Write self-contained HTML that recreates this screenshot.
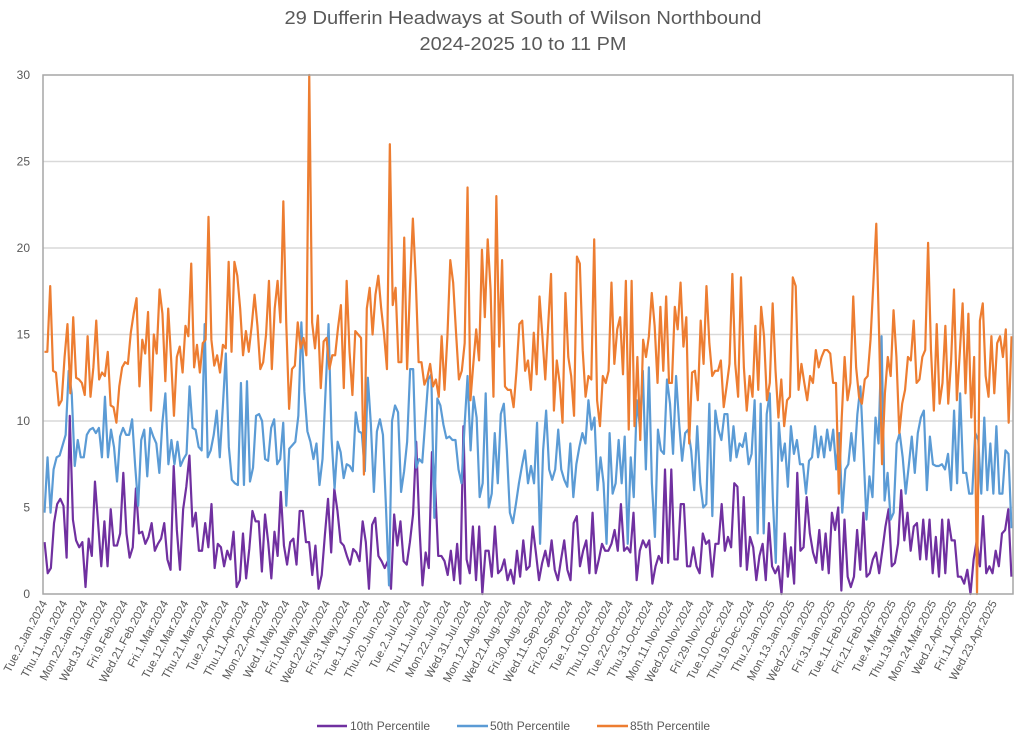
<!DOCTYPE html>
<html>
<head>
<meta charset="utf-8">
<style>
  html,body{margin:0;padding:0;background:#fff;}
  svg{display:block;font-family:"Liberation Sans",sans-serif;}
</style>
</head>
<body>
<svg id="chart" width="1024" height="738" viewBox="0 0 1024 738" xmlns="http://www.w3.org/2000/svg">
  <rect x="0" y="0" width="1024" height="738" fill="#fff"/>
  <text x="523" y="24" text-anchor="middle" font-size="18" fill="#595959" textLength="477" lengthAdjust="spacingAndGlyphs">29 Dufferin Headways at South of Wilson Northbound</text>
  <text x="523" y="50" text-anchor="middle" font-size="18" fill="#595959" textLength="207" lengthAdjust="spacingAndGlyphs">2024-2025 10 to 11 PM</text>
  <g id="grid"></g>
  <g id="yticks"></g>
  <g id="xticks"></g>
  <g id="series"></g>
  <rect x="43" y="75" width="970" height="519" fill="none" stroke="#a6a6a6" stroke-width="1.5"/>
  <g>
    <g>
      <line x1="317" y1="726" x2="347" y2="726" stroke="#7030a0" stroke-width="2.5"/>
      <text x="350" y="730" font-size="12" fill="#595959">10th Percentile</text>
    </g>
    <g>
      <line x1="457" y1="726" x2="488" y2="726" stroke="#5b9bd5" stroke-width="2.5"/>
      <text x="490" y="730" font-size="12" fill="#595959">50th Percentile</text>
    </g>
    <g>
      <line x1="597" y1="726" x2="628" y2="726" stroke="#ed7d31" stroke-width="2.5"/>
      <text x="630" y="730" font-size="12" fill="#595959">85th Percentile</text>
    </g>
  </g>
</svg>
<script>
const yTicks = [0,5,10,15,20,25,30];
const xTickLabels = ["Tue.2.Jan.2024","Thu.11.Jan.2024","Mon.22.Jan.2024","Wed.31.Jan.2024","Fri.9.Feb.2024","Wed.21.Feb.2024","Fri.1.Mar.2024","Tue.12.Mar.2024","Thu.21.Mar.2024","Tue.2.Apr.2024","Thu.11.Apr.2024","Mon.22.Apr.2024","Wed.1.May.2024","Fri.10.May.2024","Wed.22.May.2024","Fri.31.May.2024","Tue.11.Jun.2024","Thu.20.Jun.2024","Tue.2.Jul.2024","Thu.11.Jul.2024","Mon.22.Jul.2024","Wed.31.Jul.2024","Mon.12.Aug.2024","Wed.21.Aug.2024","Fri.30.Aug.2024","Wed.11.Sep.2024","Fri.20.Sep.2024","Tue.1.Oct.2024","Thu.10.Oct.2024","Tue.22.Oct.2024","Thu.31.Oct.2024","Mon.11.Nov.2024","Wed.20.Nov.2024","Fri.29.Nov.2024","Tue.10.Dec.2024","Thu.19.Dec.2024","Thu.2.Jan.2025","Mon.13.Jan.2025","Wed.22.Jan.2025","Fri.31.Jan.2025","Tue.11.Feb.2025","Fri.21.Feb.2025","Tue.4.Mar.2025","Thu.13.Mar.2025","Mon.24.Mar.2025","Wed.2.Apr.2025","Fri.11.Apr.2025","Wed.23.Apr.2025"];
const labelEvery = 7;
const categoryCount = 336;

const p85 = [14,14,17.8,12.9,12.8,10.9,11.2,13.7,15.6,11.6,16,12.5,12.4,12.2,11.5,14.9,11.4,13.1,15.8,12.4,12.8,12.6,14,10.9,10.8,9.9,12,13.1,13.4,13.3,15.1,16.2,17.1,12,14.7,13.9,16.3,10.6,15,13.9,17.6,16.2,12.3,16.5,13.6,10.3,13.7,14.3,12.8,15.5,14.9,19.1,13.1,14.4,12.8,14.5,14.7,21.8,14.7,13.2,13.8,12.8,14.4,14.2,19.2,
14,19.2,18.4,16.5,13.8,15.2,14,15.5,17.3,15.5,13,13.4,15,18.1,13,16.5,18.1,15.7,22.7,15.7,10.7,13,13.2,15.7,14.2,14.8,13.8,30,15.7,14.2,16.1,11.9,14.6,14.8,13,13.8,13.8,15.4,16.7,11.9,18.1,14,11.5,15.2,15,14.8,6.9,16.5,17.7,15,17.3,18.4,16.5,15,13,26,16.7,17.7,13.4,13.4,20.6,13,17.7,21.7,18.2,13.4,13.4,12.1,12.5,
13.3,12,12.4,11.4,14.9,11.8,14.9,19.3,18,15.1,12.4,12.9,14.5,23.5,11.2,13.3,15.3,13.5,19.9,16,20.5,17.6,11.4,23,14.3,19.3,12,11.8,11.8,10.8,12.9,15.6,15.8,12.9,13.5,11.8,15.1,12.7,17.2,14.9,12.4,15.5,18.5,10.6,13.5,12.2,9.9,17.4,13.7,12.6,10.3,19.5,19.1,14.1,11.4,12.6,12.4,20.5,11.2,9.7,12.6,12.2,12.9,18,13.3,15.3,16,12.7,18.1,9.5,
18.1,9.7,13.7,8.9,14.7,13.7,14.9,17.4,15.5,12.2,16.6,12.9,17.2,12.2,12.2,16.6,15.3,18,14.3,16,8.7,12.8,12.9,11.2,15.8,13.3,17.8,14.5,12.6,12.9,12.9,13.5,10.8,12,13.3,18.5,13.3,11.4,18.3,13.1,10.6,12.6,11.4,15.5,11.8,16.6,14.9,11.2,12.2,16.8,12.9,10.2,12.4,9.7,11.2,11.4,18.3,17.8,11.8,13.3,12.2,11.2,12.6,12.2,14.1,13.1,13.7,14.1,
14.1,13.9,12.2,12.2,5.8,10.2,13.7,11.2,12.2,17.2,13.1,11.4,11,12.4,12.6,14.7,18,21.4,14.9,7.5,11.6,13.7,12.6,16.4,13.7,9.3,11,11.8,13.7,13.5,15.8,12.2,12.4,13.7,14.1,20.3,14.1,10.6,15.6,11,12.2,15.5,11,13.5,17.6,11.2,13.9,16.8,11.6,16.2,10.2,13.7,0,15.8,16.8,12.6,11.4,14.9,11.6,14.5,14.9,13.7,15.3,9.9,14.9];

const p50 = [4.7,7.9,4.7,7.2,7.9,8,8.6,9.2,12.9,11.6,7.4,8.9,7.9,7.9,9.2,9.5,9.6,9.3,9.6,7.9,11.4,7.9,9.5,8.5,6.5,9.1,9.6,9.2,9.2,10.1,7.4,5.1,8.9,9.5,6.8,9.6,9.1,8.7,7,9.9,11.6,7.5,8.9,7.5,8.8,7.4,7.8,8.1,12,9.6,9.5,8.5,8.3,15.6,7.9,8.3,9.2,10.6,7.9,10.8,13.9,8.5,6.6,6.4,6.3,12.2,6.3,
12.3,6.5,7.3,10.3,10.4,10,7.8,7.7,9.6,10.1,7.5,7.8,9.9,5.1,8.4,8.6,8.8,10.3,15.7,11.7,9.4,8.8,7.8,8.7,6.3,7.8,11.7,15.6,9,6.1,8.8,8.2,6.7,7.5,7.4,7.1,10.5,9.4,9.3,7.1,12.5,9.8,5.9,9.4,10.1,9.2,5,0.5,10,10.9,10.5,5.9,7.1,8.8,13,13,7.3,7.8,7.6,10,12.4,12.7,4.4,11.3,10.9,9.8,9,
9.1,8.9,8.9,7.2,6.4,9.7,12.6,8.3,11.4,10.2,5.6,6.4,11.6,5,5.8,9.3,6.4,10.4,11,8.3,4.7,4.1,5.2,6.4,7.4,8.3,6.4,7.4,6.4,9.9,2.9,8.3,10.6,7.2,6.6,7.2,9.5,7.2,6.6,6.2,8.7,5.6,7.5,8.5,9.3,8.7,11.2,9.5,10.2,6,7.9,6.4,2.9,9.3,5.8,6.4,8.9,6.4,9.1,2.9,7.9,5.6,11.2,9.7,12.9,7.2,
13.1,6.4,3.3,9.5,8.3,8.1,12.4,11,8.1,12.6,9.9,7.7,9.3,9.5,8.3,6,9.7,6.4,5,5.2,11,4.5,10.6,9.5,8.9,10.4,10.4,7.7,9.7,7.9,8.7,8.5,9.3,7.5,8.1,11.2,3.5,11,3.5,10.4,11.6,5.6,1.8,9.9,7.7,8.7,6.2,9.7,8.1,8.9,7.5,7.5,5.8,7.7,7.9,9.7,7.9,9.1,7.9,9.5,
8.3,9.5,7.2,9.3,4.7,7.2,7.5,9.3,7.7,10.4,12,8.3,4.3,6.8,5.6,10.2,8.7,14.9,5.4,7,4.3,4.7,8.7,9.3,7.9,5.8,7.4,9.1,7,9.3,10.2,10.6,6,9.1,7.5,7.4,7.4,7.5,7.2,8.1,6,10.6,6.4,11.6,7,7,5.8,5.8,9.3,8.9,5.8,10.2,6,8.7,5.8,9.7,5.8,5.8,8.3,8.1,3.8];

const p10 = [3,1.2,1.5,4.1,5.2,5.5,5.1,2.1,10.3,4.3,3.1,2.7,3,0.4,3.2,2.2,6.5,4.1,1.6,4.2,1.6,4.9,2.8,2.8,3.5,7,3.5,2.1,2.7,6.1,3.5,3.6,2.9,3.3,4.1,2.5,2.9,3.2,4.1,2,1.4,7.4,3.7,1.4,4.9,6.2,8,3.9,4.7,2.5,2.5,4.1,2.7,5.2,1.5,2.9,2.7,1.6,2.5,2,3.6,0.4,0.8,3.5,
0.9,2.6,4.8,4.2,4.2,1.3,4.6,3,0.9,3.6,2.2,5.9,2.8,1.7,3,3.2,1.7,4.8,4.8,3,3,1.1,2.8,0.3,1.1,3.4,5.5,2.4,6.1,4.8,3,2.8,2.2,1.7,2.6,2.4,1.9,4.2,3,0.3,4,4.4,2.2,1.9,1.5,1.9,0.3,4.6,2.8,4.2,1.9,1.7,3,4.6,8.8,4,0.5,2.4,1.5,8.2,6.3,2.2,2.2,1.9,1.1,
2.5,0.8,2.9,0.6,9.7,2,1.2,3.9,0.8,3.9,0,2.5,2.5,1,3.9,1.2,1.4,2,0.8,1.4,0.6,2.5,1,3.1,1.4,1.6,3.9,2.4,0.8,1.8,2.5,1.6,3.1,1.4,0.8,2,3.1,1.4,0.8,4.1,4.5,1.6,2.5,3.1,1.2,4.7,1.2,2,2.9,2.5,2.5,2.9,3.7,2.5,5.2,2.5,2.7,2.4,4.7,0.8,2.5,3.1,2.7,
3.1,0.6,1.6,2.2,1.8,7.2,1.8,7.2,2,2,5.2,5.2,1.6,1.6,2.7,1.6,1.2,3.5,2.9,3.1,1,2.9,2.9,5.2,2.5,3.3,2.7,6.4,6.2,1.6,5.6,1.4,3.3,2.7,0.8,2.2,2.9,0.8,4.1,1.6,1.2,1.6,0,3.5,1,2.7,0.6,7,2.5,2.7,5.6,3.5,2.4,1.8,
3.7,1.4,3.5,1.2,4.7,3.7,5,0.2,4.3,1,0.4,1,3.7,1.4,4.7,1,1.2,2,2.4,1.2,2.5,3.9,4.9,1.6,1.8,2.9,6,3.1,4.7,2.5,3.9,4.1,2,4.3,2,4.3,1.2,3.3,1,4.3,1.2,4.3,3.1,3.1,1,1,0.6,1.4,0,2,3.1,1.6,4.5,1.2,1.6,1.2,2.5,1.6,3.5,3.7,4.9,1];

const seriesNames = ["10th Percentile","50th Percentile","85th Percentile"];

const NS = "http://www.w3.org/2000/svg";
const plotL = 43, plotR = 1013, plotT = 75, plotB = 594, yMax = 30;
function yScale(v){ return plotB - (v / yMax) * (plotB - plotT); }
function xCat(i, n){ return plotL + (i + 0.5) * (plotR - plotL) / n; }

const grid = document.getElementById('grid');
const yt = document.getElementById('yticks');
yTicks.forEach(function(t){
  const y = yScale(t);
  if (t > 0 && t < yMax) {
    const ln = document.createElementNS(NS,'line');
    
    
    ln.setAttribute('x1', plotL); ln.setAttribute('x2', plotR);
    ln.setAttribute('y1', y); ln.setAttribute('y2', y);
    ln.setAttribute('stroke', '#d9d9d9'); ln.setAttribute('stroke-width', '1.5');
    grid.appendChild(ln);
  }
  const tx = document.createElementNS(NS,'text');
  
  
  tx.setAttribute('x', 30); tx.setAttribute('y', y + 4);
  tx.setAttribute('text-anchor', 'end'); tx.setAttribute('font-size', '12');
  tx.setAttribute('fill', '#595959');
  tx.textContent = t;
  yt.appendChild(tx);
});

const xt = document.getElementById('xticks');
xTickLabels.forEach(function(lab, k){
  const x = xCat(k * labelEvery, categoryCount) + 3;
  const tx = document.createElementNS(NS,'text');
  
  
  tx.setAttribute('x', 0); tx.setAttribute('y', 0);
  tx.setAttribute('text-anchor', 'end'); tx.setAttribute('font-size', '11.5');
  tx.setAttribute('fill', '#595959');
  tx.setAttribute('transform', 'translate(' + x + ',' + (plotB + 9) + ') rotate(-62)');
  tx.textContent = lab;
  xt.appendChild(tx);
});

const sg = document.getElementById('series');
function drawSeries(vals, color, name){
  const n = vals.length;
  let d = '';
  vals.forEach(function(v, i){
    d += (i ? 'L' : 'M') + xCat(i, n).toFixed(2) + ',' + yScale(v).toFixed(2);
  });
  const p = document.createElementNS(NS,'path');
  
  
  p.setAttribute('d', d);
  p.setAttribute('fill', 'none');
  p.setAttribute('stroke', color);
  p.setAttribute('stroke-width', '2.2');
  p.setAttribute('stroke-linejoin', 'round');
  sg.appendChild(p);
}
drawSeries(p10, '#7030a0', 'line-10th-percentile');
drawSeries(p50, '#5b9bd5', 'line-50th-percentile');
drawSeries(p85, '#ed7d31', 'line-85th-percentile');
</script>
</body>
</html>
